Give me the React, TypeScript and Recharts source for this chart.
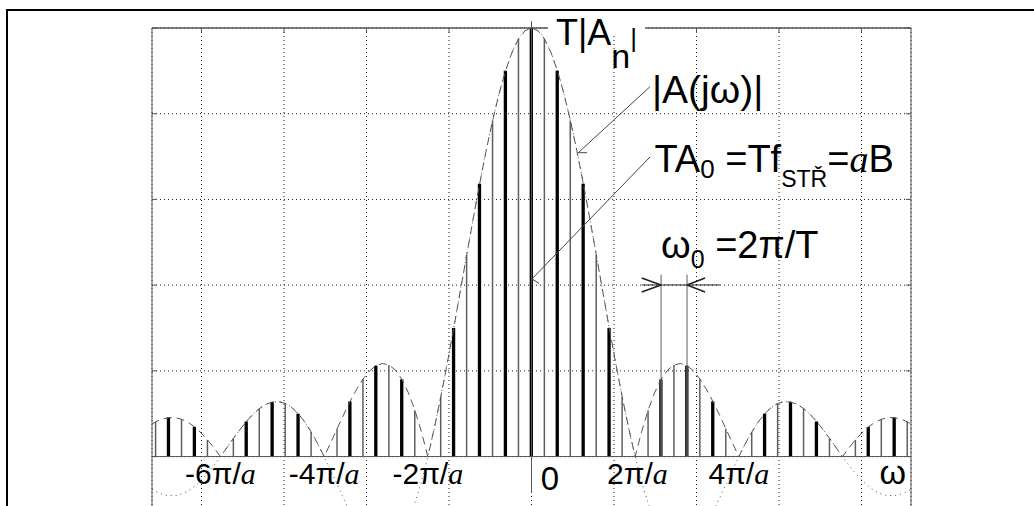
import React from 'react'
import {
  ComposedChart, Bar, Line, XAxis, YAxis, CartesianGrid,
  ReferenceLine, ReferenceDot,
} from 'recharts'

// angular frequency samples (rad/s), step pi/8, plus the plot edges
const OMEGA = [
  -23, -22.777, -22.384, -21.991, -21.598, -21.206, -20.813, -20.42, -20.028, -19.635, -19.242,
  -18.85, -18.457, -18.064, -17.671, -17.279, -16.886, -16.493, -16.101, -15.708, -15.315,
  -14.923, -14.53, -14.137, -13.744, -13.352, -12.959, -12.566, -12.174, -11.781, -11.388,
  -10.996, -10.603, -10.21, -9.817, -9.425, -9.032, -8.639, -8.247, -7.854, -7.461,
  -7.069, -6.676, -6.283, -5.89, -5.498, -5.105, -4.712, -4.32, -3.927, -3.534,
  -3.142, -2.749, -2.356, -1.963, -1.571, -1.178, -0.785, -0.393, 0,
  0.393, 0.785, 1.178, 1.571, 1.963, 2.356, 2.749, 3.142,
  3.534, 3.927, 4.32, 4.712, 5.105, 5.498, 5.89, 6.283, 6.676, 7.069,
  7.461, 7.854, 8.247, 8.639, 9.032, 9.425, 9.817, 10.21, 10.603, 10.996,
  11.388, 11.781, 12.174, 12.566, 12.959, 13.352, 13.744, 14.137, 14.53, 14.923,
  15.315, 15.708, 16.101, 16.493, 16.886, 17.279, 17.671, 18.064, 18.457, 18.85,
  19.242, 19.635, 20.028, 20.42, 20.813, 21.206, 21.598, 21.991, 22.384, 22.777, 23,
]

// A(jw) with sign (dotted curve)
const A_SIGNED = [
  -0.0761, -0.0811, -0.0876, -0.0909, -0.0908, -0.0871, -0.0799, -0.0693, -0.0555, -0.039, -0.0203,
  0, 0.0211, 0.0424, 0.0629, 0.0818, 0.0985, 0.112, 0.1218, 0.1273, 0.1281,
  0.1238, 0.1145, 0.1, 0.0808, 0.0573, 0.0301, 0, -0.0321, -0.065, -0.0976,
  -0.1286, -0.1568, -0.181, -0.1998, -0.2122, -0.2172, -0.2139, -0.2017, -0.1801, -0.1489,
  -0.1083, -0.0584, 0, 0.0662, 0.1392, 0.2177, 0.3001, 0.385, 0.4705, 0.555,
  0.6366, 0.7136, 0.7842, 0.8469, 0.9003, 0.9432, 0.9745, 0.9936, 1,
  0.9936, 0.9745, 0.9432, 0.9003, 0.8469, 0.7842, 0.7136, 0.6366,
  0.555, 0.4705, 0.385, 0.3001, 0.2177, 0.1392, 0.0662, 0, -0.0584, -0.1083,
  -0.1489, -0.1801, -0.2017, -0.2139, -0.2172, -0.2122, -0.1998, -0.181, -0.1568, -0.1286,
  -0.0976, -0.065, -0.0321, 0, 0.0301, 0.0573, 0.0808, 0.1, 0.1145, 0.1238,
  0.1281, 0.1273, 0.1218, 0.112, 0.0985, 0.0818, 0.0629, 0.0424, 0.0211, 0,
  -0.0203, -0.039, -0.0555, -0.0693, -0.0799, -0.0871, -0.0908, -0.0909, -0.0876, -0.0811, -0.0761,
]

// |A(jw)| envelope (dashed curve), also the bar heights
const A_ENV = [
  0.0761, 0.0811, 0.0876, 0.0909, 0.0908, 0.0871, 0.0799, 0.0693, 0.0555, 0.039, 0.0203,
  0, 0.0211, 0.0424, 0.0629, 0.0818, 0.0985, 0.112, 0.1218, 0.1273, 0.1281,
  0.1238, 0.1145, 0.1, 0.0808, 0.0573, 0.0301, 0, 0.0321, 0.065, 0.0976,
  0.1286, 0.1568, 0.181, 0.1998, 0.2122, 0.2172, 0.2139, 0.2017, 0.1801, 0.1489,
  0.1083, 0.0584, 0, 0.0662, 0.1392, 0.2177, 0.3001, 0.385, 0.4705, 0.555,
  0.6366, 0.7136, 0.7842, 0.8469, 0.9003, 0.9432, 0.9745, 0.9936, 1,
  0.9936, 0.9745, 0.9432, 0.9003, 0.8469, 0.7842, 0.7136, 0.6366,
  0.555, 0.4705, 0.385, 0.3001, 0.2177, 0.1392, 0.0662, 0, 0.0584, 0.1083,
  0.1489, 0.1801, 0.2017, 0.2139, 0.2172, 0.2122, 0.1998, 0.181, 0.1568, 0.1286,
  0.0976, 0.065, 0.0321, 0, 0.0301, 0.0573, 0.0808, 0.1, 0.1145, 0.1238,
  0.1281, 0.1273, 0.1218, 0.112, 0.0985, 0.0818, 0.0629, 0.0424, 0.0211, 0,
  0.0203, 0.039, 0.0555, 0.0693, 0.0799, 0.0871, 0.0908, 0.0909, 0.0876, 0.0811, 0.0761,
]

const X_GRID = [-20, -15, -10, -5, 0, 5, 10, 15, 20]
const Y_GRID = [-0.4, -0.2, 0, 0.2, 0.4, 0.6, 0.8, 1]

const X_LABELS = ['-6π/a', '-4π/a', '-2π/a', '0', '2π/a', '4π/a', 'ω']
const X_LABEL_AT = [-18.85, -12.566, -6.283, 1.12, 6.42, 12.566, 21.9]
const X_LABEL_SIZE = [30, 30, 30, 33, 30, 30, 34]

// every second sample is a thin line (T = 8), every fourth a thick one (T = 4)
const data = OMEGA.map((w, i) => ({
  w,
  a: A_SIGNED[i],
  env: A_ENV[i],
  thin: i % 2 === 1 ? A_ENV[i] : null,
  thick: i % 4 === 3 ? A_ENV[i] : null,
}))

const SANS = "'Liberation Sans', Arial, Helvetica, sans-serif"
const SERIF = "'Liberation Serif', 'Times New Roman', serif"
const INK = '#000'
const AXIS = '#555'

const at = (render: (x: number, y: number) => React.ReactNode) => (props: any) => {
  const vb = props.viewBox || props
  return <g>{render(vb.x, vb.y)}</g>
}

const Italic = ({ children }: { children: React.ReactNode }) => (
  <tspan fontFamily={SERIF} fontStyle="italic">{children}</tspan>
)

const NoLabel = () => <g />

function tickText(label: string, size: number) {
  return at((x, y) => (
    <text x={x} y={y} textAnchor="middle" fontSize={size} fontFamily={SANS} fill={INK}>
      {label.endsWith('a') ? (
        <>
          {label.slice(0, -1)}
          <Italic>a</Italic>
        </>
      ) : label}
    </text>
  ))
}

const ref = { xAxisId: 'top', yAxisId: 'left', ifOverflow: 'visible' as const }

export default function App() {
  return (
    <div style={{ position: 'absolute', left: 0, top: 0, width: 1034, height: 506, overflow: 'hidden', background: '#fff' }}>
      <div style={{ position: 'absolute', left: 6, top: 9, width: 1100, height: 600, borderTop: '2px solid #000', borderLeft: '2px solid #000' }} />
      <div style={{ position: 'absolute', left: 0, top: 0 }}>
        <ComposedChart width={1034} height={700} data={data} margin={{ top: 28, right: 123, bottom: 72, left: 152 }}>
          <CartesianGrid xAxisId="top" yAxisId="left" stroke="#1a1a1a" strokeDasharray="1 3" />
          <XAxis xAxisId="top" orientation="top" type="number" dataKey="w" domain={[-23, 23]} ticks={X_GRID}
            mirror tick={NoLabel} tickSize={5} stroke={AXIS} allowDataOverflow />
          <XAxis xAxisId="thin" type="number" dataKey="w" domain={[-23, 23]} hide allowDataOverflow />
          <XAxis xAxisId="thick" type="number" dataKey="w" domain={[-23, 23]} hide allowDataOverflow />
          <YAxis yAxisId="left" type="number" domain={[-0.4, 1]} ticks={Y_GRID}
            mirror tick={NoLabel} tickSize={5} stroke={AXIS} allowDataOverflow />
          <YAxis yAxisId="right" orientation="right" type="number" domain={[-0.4, 1]} ticks={Y_GRID}
            mirror tick={NoLabel} tickSize={5} stroke={AXIS} allowDataOverflow />

          <ReferenceLine {...ref} y={0} stroke={AXIS} strokeWidth={1} />
          <ReferenceLine {...ref} y={1} stroke={AXIS} strokeWidth={1} />
          <ReferenceLine {...ref} segment={[{ x: 0, y: 1.016 }, { x: 0, y: -0.085 }]} stroke={AXIS} />

          {/* omega_0 extension lines */}
          <ReferenceLine {...ref} segment={[{ x: 7.854, y: 0.424 }, { x: 7.854, y: 0 }]} stroke="#777" strokeWidth={1.2} />
          <ReferenceLine {...ref} segment={[{ x: 9.425, y: 0.424 }, { x: 9.425, y: 0 }]} stroke="#777" strokeWidth={1.2} />

          <Bar xAxisId="thin" yAxisId="left" dataKey="thin" fill="#5e5e5e" barSize={1.5} isAnimationActive={false} />
          <Bar xAxisId="thick" yAxisId="left" dataKey="thick" fill="#000" barSize={5} isAnimationActive={false} />

          <Line xAxisId="top" yAxisId="left" dataKey="a" type="monotone" stroke="#555" strokeWidth={1}
            strokeDasharray="1 4" dot={false} isAnimationActive={false} />
          <Line xAxisId="top" yAxisId="left" dataKey="env" type="linear" stroke="#555" strokeWidth={1}
            strokeDasharray="8 5" dot={false} isAnimationActive={false} />

          {/* omega_0 arrows */}
          <ReferenceLine {...ref} segment={[{ x: 6.68, y: 0.4004 }, { x: 11.42, y: 0.4004 }]} stroke="#222" />
          <ReferenceLine {...ref} segment={[{ x: 6.68, y: 0.4167 }, { x: 7.854, y: 0.4004 }]} stroke="#222" strokeWidth={1.5} />
          <ReferenceLine {...ref} segment={[{ x: 6.68, y: 0.384 }, { x: 7.854, y: 0.4004 }]} stroke="#222" strokeWidth={1.5} />
          <ReferenceLine {...ref} segment={[{ x: 10.52, y: 0.4167 }, { x: 9.425, y: 0.4004 }]} stroke="#222" strokeWidth={1.5} />
          <ReferenceLine {...ref} segment={[{ x: 10.52, y: 0.384 }, { x: 9.425, y: 0.4004 }]} stroke="#222" strokeWidth={1.5} />

          {/* leader lines */}
          <ReferenceLine {...ref} segment={[{ x: 7.18, y: 0.863 }, { x: 2.836, y: 0.709 }]} stroke="#444" />
          <ReferenceLine {...ref} segment={[{ x: 2.836, y: 0.709 }, { x: 3.364, y: 0.709 }]} stroke="#444" />
          <ReferenceLine {...ref} segment={[{ x: 7.18, y: 0.699 }, { x: 0.03, y: 0.4146 }]} stroke="#444" />
          <ReferenceLine {...ref} segment={[{ x: 0.03, y: 0.4146 }, { x: 0.455, y: 0.404 }]} stroke="#444" />

          {X_LABELS.map((t, i) => (
            <ReferenceDot key={t} {...ref} x={X_LABEL_AT[i]} y={t === '0' ? -0.078 : -0.064} r={0}
              fill="none" stroke="none" label={tickText(t, X_LABEL_SIZE[i])} />
          ))}

          <ReferenceDot {...ref} x={1.485} y={0.9604} r={0} fill="none" stroke="none"
            label={at((x, y) => (
              <>
                <rect x={x - 8} y={y - 25} width={97} height={14} fill="#fff" />
                <text x={x} y={y} fontSize={36} fontFamily={SANS} fill={INK}>
                  T|A<tspan fontSize={34} dy={23}>n</tspan><tspan fontSize={26} dy={-21}>|</tspan>
                </text>
              </>
            ))} />
          <ReferenceDot {...ref} x={7.3} y={0.825} r={0} fill="none" stroke="none"
            label={at((x, y) => (
              <text x={x} y={y} fontSize={39} fontFamily={SANS} fill={INK}>|A(jω)|</text>
            ))} />
          <ReferenceDot {...ref} x={7.45} y={0.6648} r={0} fill="none" stroke="none"
            label={at((x, y) => (
              <text x={x} y={y} fontSize={38} fontFamily={SANS} fill={INK}>
                TA<tspan fontSize={26} dy={6}>0</tspan>
                <tspan dy={-6}> =Tf</tspan>
                <tspan fontSize={23} dy={15}>STŘ</tspan>
                <tspan dy={-15}>=</tspan>
                <Italic>a</Italic>B
              </text>
            ))} />
          <ReferenceDot {...ref} x={7.85} y={0.4634} r={0} fill="none" stroke="none"
            label={at((x, y) => (
              <text x={x} y={y} fontSize={38} fontFamily={SANS} fill={INK}>
                ω<tspan fontSize={25} dy={10}>0</tspan>
                <tspan dy={-10}> =2π/T</tspan>
              </text>
            ))} />
        </ComposedChart>
      </div>
    </div>
  )
}
